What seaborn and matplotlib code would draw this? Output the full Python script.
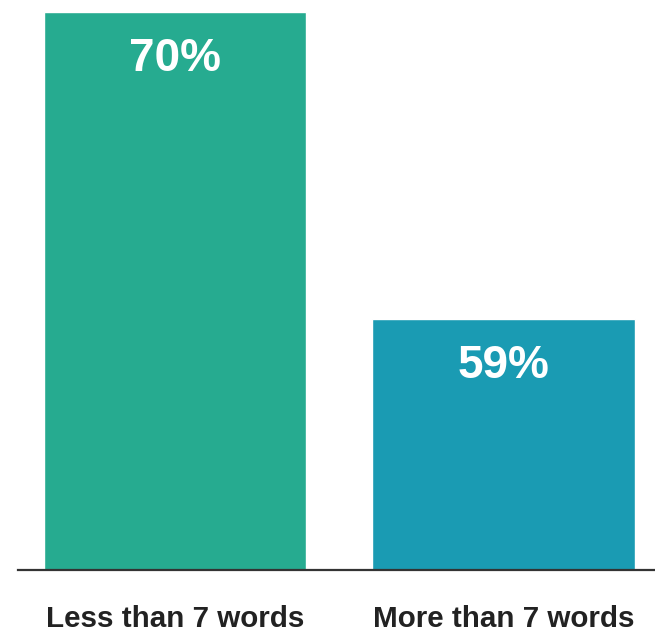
import matplotlib
matplotlib.use("Agg")
import matplotlib.pyplot as plt
import seaborn as sns
import pandas as pd

categories = ["Less than 7 words", "More than 7 words"]
values = [70, 59]
labels = ["70%", "59%"]
colors = ["#26AB90", "#1A9BB3"]

sns.set_style("white")
plt.rcParams['font.family'] = ['Liberation Sans', 'DejaVu Sans']

df = pd.DataFrame({"cat": categories, "val": values})

fig = plt.figure(figsize=(6.55, 6.34), dpi=100)
ax = fig.add_axes([18/655, 64/634, 637/655, 570/634])
sns.barplot(data=df, x="cat", y="val", hue="cat", palette=colors, width=0.8,
            legend=False, ax=ax, saturation=1)
ax.set_ylim(50, 70.43)
ax.set_xlim(-0.478, 1.461)
for i, (v, t) in enumerate(zip(values, labels)):
    ax.annotate(t, (i, v), xytext=(0, -34), textcoords="offset points",
                ha="center", va="center", color="white", fontsize=33, fontweight="bold")
for s in ["top", "right", "left"]:
    ax.spines[s].set_visible(False)
ax.spines["bottom"].set_color("#333333")
ax.spines["bottom"].set_linewidth(1.6)
ax.set_xlabel("")
ax.set_ylabel("")
ax.set_yticks([])
ax.tick_params(axis="x", length=0, pad=25, labelsize=21.3, labelcolor="#222222")
for lab in ax.get_xticklabels():
    lab.set_fontweight("bold")
fig.savefig("out.png", dpi=100)
